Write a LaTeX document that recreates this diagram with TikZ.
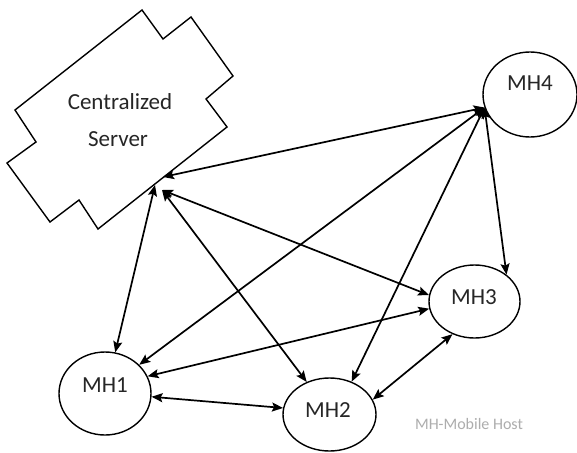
\documentclass[tikz,border=0pt]{standalone}
\usepackage{fontspec}
\setmainfont{Carlito}
\usetikzlibrary{arrows.meta,shapes.geometric}
\begin{document}
\begin{tikzpicture}[x=1pt,y=-1pt,
  host/.style={draw, ellipse, line width=1.4pt, inner sep=0pt},
  lbl/.style={font=\fontsize{23}{28}\selectfont, text=black!85, inner sep=0pt},
  note/.style={font=\fontsize{16}{19}\selectfont, text=black!32, inner sep=0pt},
  tipk/.tip={Stealth[length=11pt,width=9pt,inset=2pt]},
  link/.style={line width=1.7pt, tipk-tipk},
  srvshape/.style={draw, line width=1.4pt, line join=miter}
]
\fill[white] (0,0) rectangle (577,452);
\useasboundingbox (0,0) rectangle (577,452);

% Centralized server
\draw[srvshape] (15,110) -- (142,10) -- (163,39) -- (191,17) -- (233,76)
  -- (206,99) -- (227,127) -- (98,229) -- (79,200) -- (50,222)
  -- (7,163) -- (36,142) -- cycle;
\node[lbl] (srv1) at (120,102) {Centralized};
\node[lbl] (srv2) at (118,139.5) {Server};
\coordinate (sA) at (163,177);
\coordinate (sB) at (155,185);
\coordinate (sC) at (162,190);

% Mobile hosts
\node[host, minimum width=94pt, minimum height=85pt] (mh4) at (530,94.5) {};
\node[lbl] (t4) at (530,83) {MH4};
\node[host, minimum width=91pt, minimum height=73pt] (mh3) at (474.5,301.5) {};
\node[lbl] (t3) at (474,297) {MH3};
\node[host, minimum width=92pt, minimum height=83pt] (mh1) at (105,393.5) {};
\node[lbl] (t1) at (105,385) {MH1};
\node[host, minimum width=93pt, minimum height=73pt] (mh2) at (329.5,414.5) {};
\node[lbl] (t2) at (328,410) {MH2};

\node[note] (legend) at (469,424) {MH-Mobile Host};

% Links
\draw[link] (sA) -- (mh4.196);
\draw[link] (sB) -- (mh1.76);
\draw[link] (sC) -- (mh2.125);
\draw[link] (sC) -- (mh3.172);
\draw[link] (mh4.196) -- (mh1.40);
\draw[link] (mh4.196) -- (mh2.56);
\draw[link] (mh4.196) -- (mh3.40);
\draw[link] (mh1.22) -- (mh3.189);
\draw[link] (mh1.-4) -- (mh2.172);
\draw[link] (mh2.19) -- (mh3.236);
\end{tikzpicture}
\end{document}
